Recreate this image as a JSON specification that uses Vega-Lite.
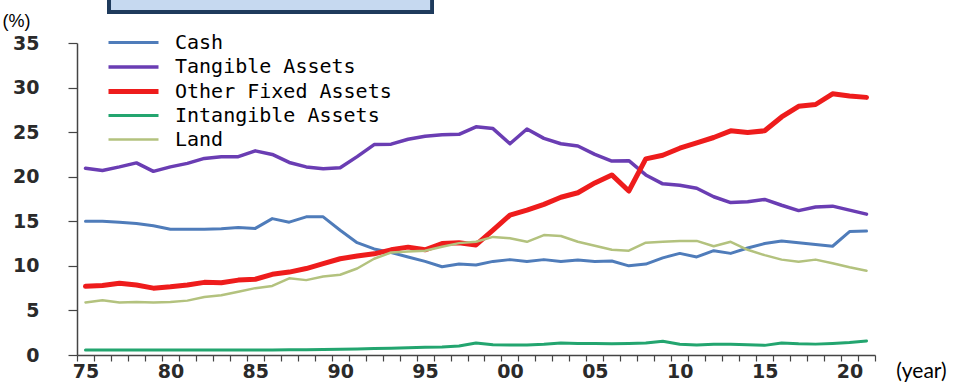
{
  "$schema": "https://vega.github.io/schema/vega-lite/v6.json",
  "width": 798,
  "height": 312,
  "autosize": {"type": "none"},
  "padding": {"left": 77, "top": 43, "right": 85, "bottom": 33},
  "background": "white",
  "config": {"view": {"stroke": null}},
  "data": {"values": [
    {"year":1975,"Cash":15.0,"Tangible Assets":20.95,"Other Fixed Assets":7.7,"Intangible Assets":0.57,"Land":5.9},
    {"year":1976,"Cash":15.0,"Tangible Assets":20.7,"Other Fixed Assets":7.8,"Intangible Assets":0.57,"Land":6.15},
    {"year":1977,"Cash":14.9,"Tangible Assets":21.1,"Other Fixed Assets":8.05,"Intangible Assets":0.57,"Land":5.9},
    {"year":1978,"Cash":14.75,"Tangible Assets":21.55,"Other Fixed Assets":7.85,"Intangible Assets":0.57,"Land":5.95},
    {"year":1979,"Cash":14.5,"Tangible Assets":20.6,"Other Fixed Assets":7.5,"Intangible Assets":0.57,"Land":5.9},
    {"year":1980,"Cash":14.1,"Tangible Assets":21.1,"Other Fixed Assets":7.65,"Intangible Assets":0.57,"Land":5.95},
    {"year":1981,"Cash":14.1,"Tangible Assets":21.5,"Other Fixed Assets":7.85,"Intangible Assets":0.57,"Land":6.1},
    {"year":1982,"Cash":14.1,"Tangible Assets":22.05,"Other Fixed Assets":8.15,"Intangible Assets":0.57,"Land":6.5},
    {"year":1983,"Cash":14.15,"Tangible Assets":22.25,"Other Fixed Assets":8.1,"Intangible Assets":0.57,"Land":6.7},
    {"year":1984,"Cash":14.3,"Tangible Assets":22.25,"Other Fixed Assets":8.4,"Intangible Assets":0.57,"Land":7.1},
    {"year":1985,"Cash":14.2,"Tangible Assets":22.9,"Other Fixed Assets":8.5,"Intangible Assets":0.57,"Land":7.5},
    {"year":1986,"Cash":15.3,"Tangible Assets":22.5,"Other Fixed Assets":9.05,"Intangible Assets":0.57,"Land":7.75},
    {"year":1987,"Cash":14.9,"Tangible Assets":21.6,"Other Fixed Assets":9.3,"Intangible Assets":0.58,"Land":8.6},
    {"year":1988,"Cash":15.5,"Tangible Assets":21.1,"Other Fixed Assets":9.7,"Intangible Assets":0.6,"Land":8.4},
    {"year":1989,"Cash":15.5,"Tangible Assets":20.9,"Other Fixed Assets":10.25,"Intangible Assets":0.62,"Land":8.8},
    {"year":1990,"Cash":14.0,"Tangible Assets":21.0,"Other Fixed Assets":10.8,"Intangible Assets":0.65,"Land":9.0},
    {"year":1991,"Cash":12.6,"Tangible Assets":22.25,"Other Fixed Assets":11.1,"Intangible Assets":0.68,"Land":9.7},
    {"year":1992,"Cash":11.9,"Tangible Assets":23.6,"Other Fixed Assets":11.35,"Intangible Assets":0.72,"Land":10.8},
    {"year":1993,"Cash":11.5,"Tangible Assets":23.65,"Other Fixed Assets":11.8,"Intangible Assets":0.75,"Land":11.5},
    {"year":1994,"Cash":11.0,"Tangible Assets":24.2,"Other Fixed Assets":12.1,"Intangible Assets":0.8,"Land":11.6},
    {"year":1995,"Cash":10.5,"Tangible Assets":24.55,"Other Fixed Assets":11.8,"Intangible Assets":0.86,"Land":11.7},
    {"year":1996,"Cash":9.9,"Tangible Assets":24.7,"Other Fixed Assets":12.5,"Intangible Assets":0.9,"Land":12.15},
    {"year":1997,"Cash":10.2,"Tangible Assets":24.75,"Other Fixed Assets":12.6,"Intangible Assets":1.0,"Land":12.55},
    {"year":1998,"Cash":10.1,"Tangible Assets":25.6,"Other Fixed Assets":12.35,"Intangible Assets":1.35,"Land":12.7},
    {"year":1999,"Cash":10.5,"Tangible Assets":25.4,"Other Fixed Assets":14.0,"Intangible Assets":1.15,"Land":13.25},
    {"year":2000,"Cash":10.7,"Tangible Assets":23.7,"Other Fixed Assets":15.7,"Intangible Assets":1.12,"Land":13.1},
    {"year":2001,"Cash":10.5,"Tangible Assets":25.35,"Other Fixed Assets":16.25,"Intangible Assets":1.12,"Land":12.7},
    {"year":2002,"Cash":10.7,"Tangible Assets":24.3,"Other Fixed Assets":16.9,"Intangible Assets":1.2,"Land":13.45},
    {"year":2003,"Cash":10.5,"Tangible Assets":23.7,"Other Fixed Assets":17.7,"Intangible Assets":1.35,"Land":13.35},
    {"year":2004,"Cash":10.65,"Tangible Assets":23.45,"Other Fixed Assets":18.2,"Intangible Assets":1.3,"Land":12.7},
    {"year":2005,"Cash":10.5,"Tangible Assets":22.5,"Other Fixed Assets":19.3,"Intangible Assets":1.28,"Land":12.25},
    {"year":2006,"Cash":10.55,"Tangible Assets":21.75,"Other Fixed Assets":20.2,"Intangible Assets":1.25,"Land":11.8},
    {"year":2007,"Cash":10.0,"Tangible Assets":21.8,"Other Fixed Assets":18.4,"Intangible Assets":1.3,"Land":11.7},
    {"year":2008,"Cash":10.2,"Tangible Assets":20.2,"Other Fixed Assets":22.0,"Intangible Assets":1.35,"Land":12.6},
    {"year":2009,"Cash":10.9,"Tangible Assets":19.2,"Other Fixed Assets":22.4,"Intangible Assets":1.55,"Land":12.7},
    {"year":2010,"Cash":11.4,"Tangible Assets":19.05,"Other Fixed Assets":23.2,"Intangible Assets":1.2,"Land":12.8},
    {"year":2011,"Cash":11.0,"Tangible Assets":18.7,"Other Fixed Assets":23.8,"Intangible Assets":1.12,"Land":12.8},
    {"year":2012,"Cash":11.7,"Tangible Assets":17.75,"Other Fixed Assets":24.4,"Intangible Assets":1.2,"Land":12.2},
    {"year":2013,"Cash":11.4,"Tangible Assets":17.1,"Other Fixed Assets":25.15,"Intangible Assets":1.2,"Land":12.7},
    {"year":2014,"Cash":12.0,"Tangible Assets":17.2,"Other Fixed Assets":24.95,"Intangible Assets":1.15,"Land":11.8},
    {"year":2015,"Cash":12.5,"Tangible Assets":17.45,"Other Fixed Assets":25.15,"Intangible Assets":1.08,"Land":11.2},
    {"year":2016,"Cash":12.8,"Tangible Assets":16.8,"Other Fixed Assets":26.7,"Intangible Assets":1.35,"Land":10.7},
    {"year":2017,"Cash":12.6,"Tangible Assets":16.2,"Other Fixed Assets":27.9,"Intangible Assets":1.25,"Land":10.45},
    {"year":2018,"Cash":12.4,"Tangible Assets":16.6,"Other Fixed Assets":28.1,"Intangible Assets":1.22,"Land":10.7},
    {"year":2019,"Cash":12.2,"Tangible Assets":16.7,"Other Fixed Assets":29.3,"Intangible Assets":1.3,"Land":10.3},
    {"year":2020,"Cash":13.85,"Tangible Assets":16.25,"Other Fixed Assets":29.05,"Intangible Assets":1.4,"Land":9.85},
    {"year":2021,"Cash":13.9,"Tangible Assets":15.8,"Other Fixed Assets":28.9,"Intangible Assets":1.57,"Land":9.45}
  ]},
  "resolve": {"scale": {"x": "shared", "y": "shared"}, "axis": {"x": "independent", "y": "shared"}},
  "layer": [
    {
      "mark": {"type": "rect", "fill": "#c6d9f0", "stroke": "#1f3b5c", "strokeWidth": 3.5, "clip": false},
      "encoding": {
        "x": {
          "datum": 1976.4, "type": "quantitative",
          "axis": {
            "orient": "bottom",
            "values": [1974.5,1975.5,1976.5,1977.5,1978.5,1979.5,1980.5,1981.5,1982.5,1983.5,1984.5,1985.5,1986.5,1987.5,1988.5,1989.5,1990.5,1991.5,1992.5,1993.5,1994.5,1995.5,1996.5,1997.5,1998.5,1999.5,2000.5,2001.5,2002.5,2003.5,2004.5,2005.5,2006.5,2007.5,2008.5,2009.5,2010.5,2011.5,2012.5,2013.5,2014.5,2015.5,2016.5,2017.5,2018.5,2019.5,2020.5,2021.5],
            "labels": false,
            "title": null,
            "grid": false,
            "domainColor": "#444444",
            "domainWidth": 1.5,
            "tickColor": "#444444",
            "tickWidth": 1.2,
            "tickSize": 6
          }
        },
        "x2": {"datum": 1995.4},
        "y": {"datum": 38.5, "type": "quantitative"},
        "y2": {"datum": 42}
      }
    },
    {
      "transform": [
        {"fold": ["Cash", "Tangible Assets", "Other Fixed Assets", "Intangible Assets", "Land"], "as": ["series", "value"]}
      ],
      "mark": {"type": "line", "strokeJoin": "round", "strokeCap": "round"},
      "encoding": {
        "x": {
          "field": "year", "type": "quantitative",
          "scale": {"domain": [1974.5, 2021.5], "nice": false, "zero": false},
          "axis": {
            "orient": "bottom",
            "values": [1975, 1980, 1985, 1990, 1995, 2000, 2005, 2010, 2015, 2020],
            "labelExpr": "datum.value % 100 < 10 ? '0' + (datum.value % 100) : '' + (datum.value % 100)",
            "labelOverlap": false,
            "labelFlush": false,
            "grid": false,
            "domain": false,
            "ticks": false,
            "labelFont": "DejaVu Sans",
            "labelFontSize": 19,
            "labelFontWeight": "bold",
            "labelColor": "#2a2a2a",
            "labelPadding": 7,
            "title": "(year)",
            "titleFont": "Lato",
            "titleFontSize": 21,
            "titleFontWeight": "normal",
            "titleColor": "#000000",
            "titleAlign": "center",
            "titleBaseline": "middle",
            "titleX": 844,
            "titleY": 16
          }
        },
        "y": {
          "field": "value", "type": "quantitative",
          "scale": {"domain": [0, 35], "nice": false},
          "axis": {
            "values": [0, 5, 10, 15, 20, 25, 30, 35],
            "grid": false,
            "domainColor": "#444444",
            "domainWidth": 1.5,
            "tickColor": "#444444",
            "tickWidth": 1.2,
            "tickSize": 9,
            "labelFont": "DejaVu Sans",
            "labelFontSize": 19,
            "labelFontWeight": "bold",
            "labelColor": "#2a2a2a",
            "labelPadding": 29,
            "title": "(%)",
            "titleFont": "Liberation Sans",
            "titleFontSize": 18,
            "titleFontWeight": "normal",
            "titleColor": "#000000",
            "titleAngle": 0,
            "titleAlign": "center",
            "titleBaseline": "middle",
            "titleX": -61,
            "titleY": -22
          }
        },
        "color": {
          "field": "series", "type": "nominal",
          "scale": {
            "domain": ["Cash", "Tangible Assets", "Other Fixed Assets", "Intangible Assets", "Land"],
            "range": ["#4f7cba", "#6a3db3", "#ee1c1c", "#23a56f", "#b3c27e"]
          },
          "legend": {
            "title": null,
            "orient": "none",
            "legendX": 44,
            "legendY": -12,
            "padding": 0,
            "symbolType": "M-2.5,0H2.5",
            "symbolSize": 400,
            "symbolFillColor": "transparent",
            "rowPadding": 2,
            "labelOffset": 29,
            "labelFont": "DejaVu Sans Mono",
            "labelFontSize": 20,
            "labelColor": "#000000",
            "labelLimit": 600
          }
        },
        "strokeWidth": {
          "field": "series", "type": "nominal",
          "scale": {
            "type": "ordinal",
            "domain": ["Cash", "Tangible Assets", "Other Fixed Assets", "Intangible Assets", "Land"],
            "range": [3, 3.5, 5, 3, 2.5]
          }
        }
      }
    }
  ]
}
